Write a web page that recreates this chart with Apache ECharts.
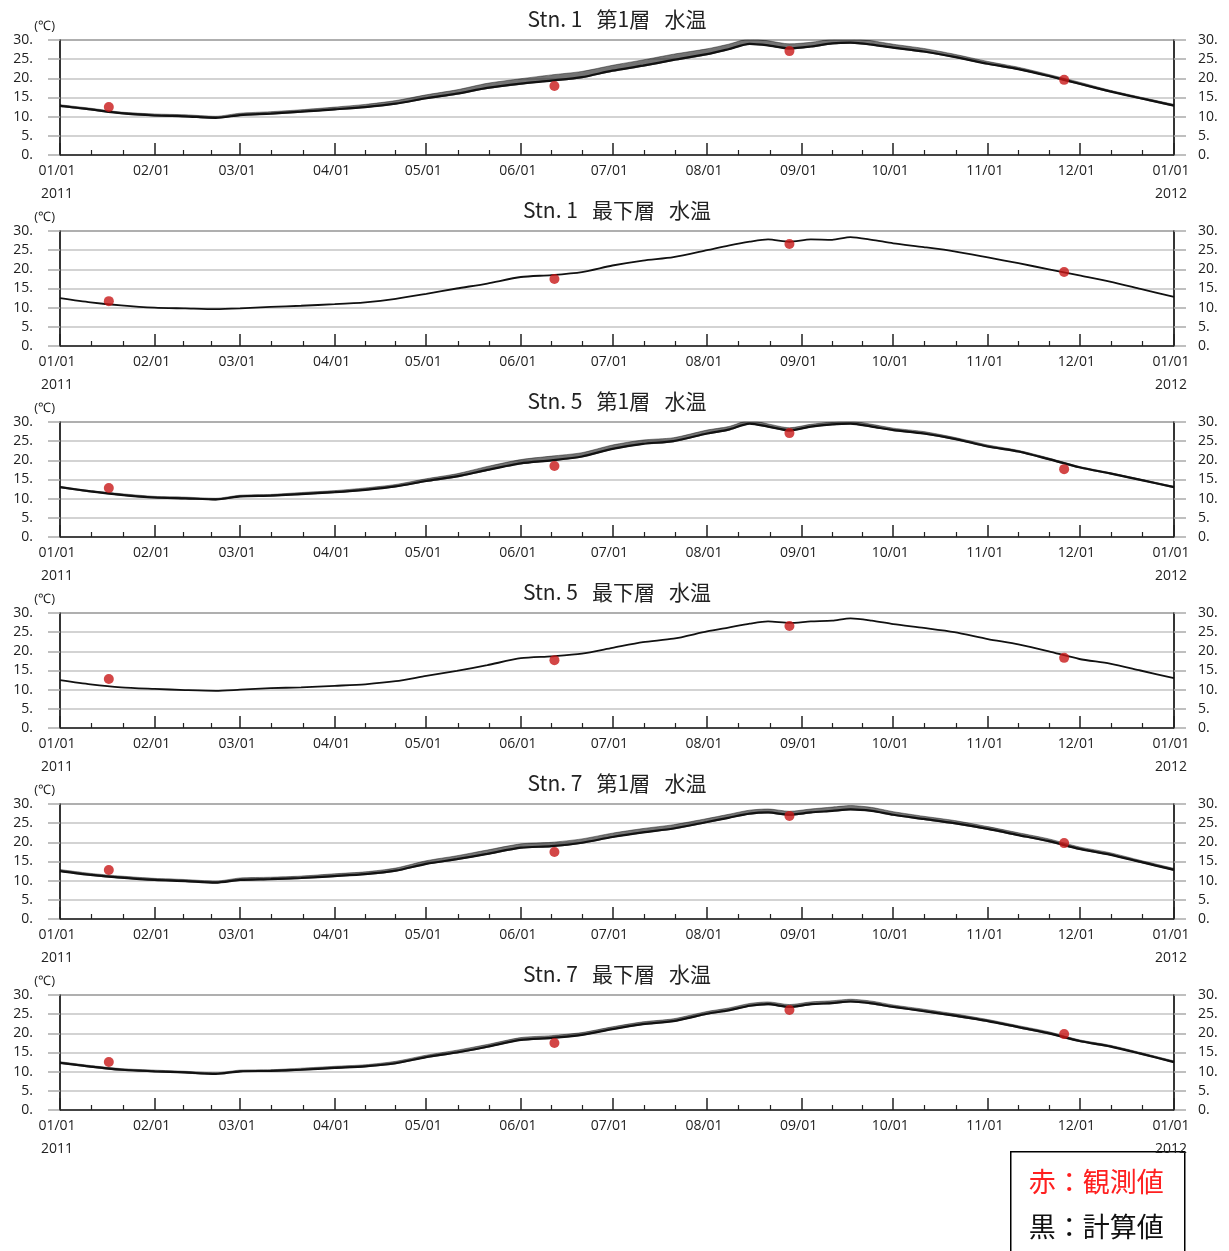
<!DOCTYPE html>
<html><head><meta charset="utf-8">
<script src="https://cdn.jsdelivr.net/npm/echarts@6/dist/echarts.min.js"></script>
<style>html,body{margin:0;padding:0;background:#fff}#c{width:1229px;height:1251px}</style>
</head><body><div id="c"></div>
<script>
// ---- data ----
const panelTitles = ['Stn. 1   第1層   水温','Stn. 1   最下層   水温','Stn. 5   第1層   水温','Stn. 5   最下層   水温','Stn. 7   第1層   水温','Stn. 7   最下層   水温'];
const calcDates = ['2011-01-01','2011-01-11','2011-01-21','2011-02-01','2011-02-11','2011-02-21','2011-03-01','2011-03-11','2011-03-21','2011-04-01','2011-04-11','2011-04-21','2011-05-01','2011-05-11','2011-05-21','2011-06-01','2011-06-11','2011-06-21','2011-07-01','2011-07-11','2011-07-21','2011-08-01','2011-08-08','2011-08-15','2011-08-21','2011-08-28','2011-09-04','2011-09-11','2011-09-17','2011-09-24','2011-10-01','2011-10-11','2011-10-21','2011-11-01','2011-11-11','2011-11-21','2011-12-01','2011-12-11','2011-12-21','2012-01-01'];
const calcStn1Top = [12.8,11.9,10.9,10.3,10.1,9.7,10.4,10.8,11.3,11.9,12.5,13.4,14.8,16.0,17.5,18.6,19.4,20.3,22.0,23.3,24.8,26.3,27.6,29.0,28.6,27.8,28.3,29.1,29.3,28.8,28.0,27.0,25.6,23.8,22.4,20.6,18.6,16.6,14.8,12.9];
const calcStn1Bot = [12.5,11.4,10.6,10.0,9.8,9.6,9.8,10.2,10.5,10.9,11.4,12.3,13.6,15.0,16.3,18.0,18.5,19.3,21.0,22.3,23.2,25.0,26.2,27.2,27.8,27.2,27.8,27.7,28.4,27.7,26.8,25.8,24.7,23.1,21.6,20.0,18.4,16.8,14.9,12.8];
const calcStn5Top = [13.0,11.9,11.0,10.3,10.1,9.8,10.6,10.8,11.2,11.7,12.3,13.2,14.6,15.8,17.5,19.2,20.0,21.0,23.0,24.3,25.0,27.0,28.0,29.6,28.8,27.8,28.8,29.4,29.6,28.8,27.9,27.0,25.6,23.6,22.3,20.3,18.2,16.6,14.9,13.0];
const calcStn5Bot = [12.5,11.4,10.6,10.2,9.9,9.7,10.0,10.4,10.6,11.0,11.4,12.2,13.6,14.9,16.4,18.2,18.7,19.4,20.9,22.4,23.3,25.2,26.2,27.2,27.8,27.4,27.8,28.0,28.6,28.0,27.1,26.1,25.0,23.2,21.8,20.0,18.0,16.8,15.0,13.0];
const calcStn7Top = [12.5,11.5,10.8,10.2,9.9,9.5,10.2,10.4,10.7,11.2,11.7,12.6,14.4,15.6,17.0,18.6,19.0,19.9,21.4,22.6,23.6,25.3,26.4,27.5,27.8,27.2,27.8,28.2,28.6,28.2,27.2,26.1,25.0,23.5,21.9,20.3,18.3,16.8,14.9,12.8];
const calcStn7Bot = [12.3,11.3,10.5,10.1,9.8,9.4,10.1,10.2,10.5,11.0,11.4,12.2,13.8,15.0,16.5,18.3,18.8,19.6,21.1,22.4,23.2,25.1,26.0,27.2,27.6,26.9,27.6,27.9,28.3,27.8,26.9,25.8,24.6,23.2,21.6,20.0,18.0,16.6,14.7,12.5];
// visible height of the short-period (tidal) spikes above the computed curve
const spikeStn1Top = [0.3,0.3,0.3,0.4,0.4,0.4,0.5,0.5,0.5,0.6,0.7,0.8,0.9,1.0,1.2,1.3,1.5,1.5,1.4,1.5,1.5,1.4,1.3,1.3,1.2,1.2,1.1,1.1,1.0,1.0,0.9,0.8,0.7,0.6,0.5,0.4,0.4,0.3,0.3,0.3];
const spikeStn5Top = [0.2,0.2,0.3,0.3,0.3,0.3,0.3,0.3,0.4,0.4,0.5,0.5,0.6,0.7,0.9,1.0,1.1,1.0,1.0,1.0,0.9,0.9,0.8,0.8,0.7,0.7,0.6,0.6,0.6,0.6,0.5,0.5,0.4,0.4,0.3,0.3,0.2,0.2,0.2,0.2];
const spikeStn7Top = [0.4,0.4,0.4,0.4,0.4,0.4,0.5,0.5,0.5,0.6,0.6,0.7,0.8,0.9,1.0,1.0,1.0,1.0,1.0,1.0,1.0,0.9,0.9,0.9,0.9,0.9,0.9,1.0,1.0,0.9,0.8,0.7,0.7,0.6,0.6,0.6,0.5,0.5,0.4,0.4];
const spikeStn7Bot = [0.3,0.3,0.3,0.3,0.3,0.3,0.3,0.3,0.4,0.4,0.4,0.5,0.5,0.6,0.6,0.6,0.6,0.6,0.6,0.6,0.6,0.6,0.6,0.6,0.6,0.6,0.6,0.6,0.6,0.6,0.5,0.5,0.5,0.4,0.4,0.4,0.3,0.3,0.3,0.3];
const obsDates = ['2011-01-17','2011-06-12','2011-08-28','2011-11-26'];
const obsStn1Top = [12.5,18.0,27.1,19.6];
const obsStn1Bot = [11.7,17.5,26.6,19.3];
const obsStn5Top = [12.8,18.5,27.1,17.7];
const obsStn5Bot = [12.8,17.7,26.6,18.3];
const obsStn7Top = [12.8,17.5,26.9,19.8];
const obsStn7Bot = [12.5,17.5,26.1,19.8];
const yTickValues = [0,5,10,15,20,25,30];
const legendLines = ['赤：観測値','黒：計算値'];

// ---- chart ----
const calcSets = [calcStn1Top,calcStn1Bot,calcStn5Top,calcStn5Bot,calcStn7Top,calcStn7Bot];
const spikeSets = [spikeStn1Top,null,spikeStn5Top,null,spikeStn7Top,spikeStn7Bot];
const obsSets = [obsStn1Top,obsStn1Bot,obsStn5Top,obsStn5Bot,obsStn7Top,obsStn7Bot];
const tops = [40,231,422,613,804,995];
const H = 115;
const DAY = 86400000;
const FONT = 'Open Sans';
const SMOOTH = 0.25;
function pad2(n){return (n<10?'0':'')+n;}

const grid=[], xAxis=[], yAxis=[], series=[], title=[];
for (let i=0;i<6;i++){
  grid.push({left:60, right:55, top:tops[i], height:H, show:true, borderColor:'#444', borderWidth:1.5});
  title.push({text:panelTitles[i], left:617, textAlign:'center', top:tops[i]-31, padding:0,
    textStyle:{fontFamily:'Noto Sans CJK JP', fontSize:21, fontWeight:'normal', color:'#222'}});
  xAxis.push({type:'time', gridIndex:i, min:'2011-01-01', max:'2012-01-01',
    minInterval:28*DAY, maxInterval:31*DAY,
    axisLine:{show:true, onZero:false, lineStyle:{color:'#222', width:1.5}},
    axisTick:{show:true, inside:true, length:12, lineStyle:{color:'#222', width:1.5}},
    minorTick:{show:true, splitNumber:3, length:5, lineStyle:{color:'#222', width:1.2}},
    splitLine:{show:false},
    axisLabel:{show:true, margin:5, fontFamily:FONT, fontSize:14, color:'#222', lineHeight:23,
      padding:[0,6,0,0],
      showMinLabel:true, showMaxLabel:true, hideOverlap:false,
      formatter:function(v){
        const d=new Date(v);
        let s=pad2(d.getMonth()+1)+'/'+pad2(d.getDate());
        if (d.getMonth()===0 && d.getDate()===1) s+='\n'+d.getFullYear();
        return s;
      }}
  });
  const yBase = {type:'value', gridIndex:i, min:yTickValues[0], max:yTickValues[yTickValues.length-1], interval:yTickValues[1]-yTickValues[0],
    axisLine:{show:true, lineStyle:{color:'#222', width:1.5}},
    axisTick:{show:true, inside:false, length:12, lineStyle:{color:'#aaa', width:1.5}}};
  yAxis.push(Object.assign({}, yBase, {position:'left',
    name:'(℃)', nameLocation:'end', nameGap:6,
    nameTextStyle:{align:'right', padding:[0,5,0,0], fontFamily:FONT, fontSize:13, color:'#222'},
    splitLine:{show:true, lineStyle:{color:'#c4c4c4', width:1.5}},
    axisLabel:{margin:27, fontFamily:FONT, fontSize:14, color:'#222', padding:[4,0,0,0], formatter:v=>v+'.'}}));
  yAxis.push(Object.assign({}, yBase, {position:'right',
    splitLine:{show:false},
    axisLabel:{margin:24, fontFamily:FONT, fontSize:14, color:'#222', padding:[4,0,0,0], formatter:v=>v+'.'}}));
  const spk = spikeSets[i];
  if (spk){
    series.push({type:'line', xAxisIndex:i, yAxisIndex:2*i, symbol:'none', smooth:SMOOTH, stack:'band'+i,
      data:calcDates.map((d,j)=>[d, calcSets[i][j]-0.25]), lineStyle:{width:0, opacity:0}, silent:true, z:1});
    series.push({type:'line', xAxisIndex:i, yAxisIndex:2*i, symbol:'none', smooth:SMOOTH, stack:'band'+i,
      data:calcDates.map((d,j)=>[d, spk[j]+0.25]), lineStyle:{width:0.6, color:'rgba(0,0,0,0.7)'},
      areaStyle:{color:'rgba(10,10,10,0.82)'}, silent:true, z:1});
  }
  series.push({type:'line', xAxisIndex:i, yAxisIndex:2*i, symbol:'none', smooth:SMOOTH,
    data:calcDates.map((d,j)=>[d, calcSets[i][j]]),
    lineStyle:{color:'#111', width: spk?2.2:1.8}, z:2});
  series.push({type:'scatter', xAxisIndex:i, yAxisIndex:2*i, symbol:'circle', symbolSize:10,
    data:obsDates.map((d,j)=>[d, obsSets[i][j]]),
    itemStyle:{color:'#c81818'}, z:3});
}

const chart = echarts.init(document.getElementById('c'), null, {renderer:'canvas'});
chart.setOption({
  animation:false, backgroundColor:'#fff',
  title, grid, xAxis, yAxis, series,
  graphic:[{type:'group', left:1010, top:1151, z:100, children:[
    {type:'rect', shape:{x:0,y:0,width:174,height:110}, style:{fill:'#fff', stroke:'#000', lineWidth:1.5}},
    {type:'text', x:18, y:30, style:{text:legendLines[0], fill:'#ff2020', font:'27px "Noto Sans CJK JP"', textVerticalAlign:'middle'}},
    {type:'text', x:18, y:75, style:{text:legendLines[1], fill:'#111', font:'27px "Noto Sans CJK JP"', textVerticalAlign:'middle'}}
  ]}]
});
</script></body></html>
